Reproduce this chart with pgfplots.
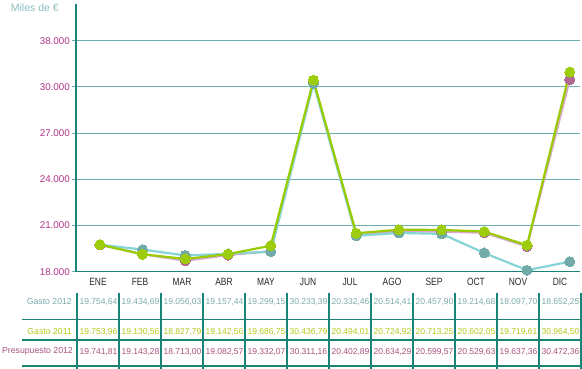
\documentclass[border=0pt]{standalone}
\usepackage{pgfplots}
\pgfplotsset{compat=1.18}
\usepackage{fontspec}
\setmainfont{Liberation Sans}
\newfontfamily\narrowfont[FakeStretch=0.8]{Liberation Sans}
\definecolor{axisteal}{HTML}{1A8576}
\definecolor{gridteal}{HTML}{6AAEAE}
\definecolor{ticklab}{HTML}{B0328A}
\definecolor{ylab}{HTML}{8CBCBC}
\definecolor{g12line}{HTML}{86D4D6}
\definecolor{g12mark}{HTML}{72AAAA}
\definecolor{g11line}{HTML}{99CC00}
\definecolor{g11mark}{HTML}{9CCC0A}
\definecolor{prline}{HTML}{D8A6CE}
\definecolor{prmark}{HTML}{B06A92}
\definecolor{g12txt}{HTML}{7AAAAA}
\definecolor{g11txt}{HTML}{B4C814}
\definecolor{prtxt}{HTML}{A8507C}
\begin{document}
\begin{tikzpicture}[x=1pt,y=1pt]
\useasboundingbox (0,0) rectangle (582,369);
\begin{axis}[
  at={(76pt,97.3pt)}, anchor=south west,
  scale only axis, width=504pt, height=267.7pt,
  xmin=-0.56, xmax=11.24, ymin=18000, ymax=35383,
  axis x line=bottom, axis y line=left,
  axis line style={-, draw=axisteal, line width=1.4pt},
  xtick=\empty,
  ytick={18000,21000,24000,27000,30000,33000},
  yticklabels={18.000,21.000,24.000,27.000,30.000,38.000},
  ymajorgrids, grid style={gridteal, line width=0.9pt},
  tick align=outside, major tick length=4.5pt,
  tick style={gridteal, line width=0.9pt},
  yticklabel style={font=\fontsize{9.8}{10}\selectfont, color=ticklab, inner sep=1.5pt},
  /pgf/number format/assume math mode=true,
  clip=false,
]
\addplot[prline, line width=2.2pt, mark=*, mark size=5pt, mark options={draw=prmark, fill=prmark, line width=0pt}] coordinates {
(0,19741.81) (1,19143.28) (2,18713.00) (3,19082.57) (4,19332.07) (5,30311.16)
(6,20402.89) (7,20634.29) (8,20599.57) (9,20529.63) (10,19637.36) (11,30472.36)};
\addplot[g12line, line width=2.2pt, mark=*, mark size=5pt, mark options={draw=g12mark, fill=g12mark, line width=0pt}] coordinates {
(0,19754.64) (1,19434.69) (2,19056.03) (3,19157.44) (4,19299.15) (5,30233.39)
(6,20332.46) (7,20514.41) (8,20457.90) (9,19214.68) (10,18097.70) (11,18652.25)};
\addplot[g11line, line width=2.2pt, mark=*, mark size=5pt, mark options={draw=g11mark, fill=g11mark, line width=0pt}] coordinates {
(0,19753.96) (1,19130.56) (2,18827.79) (3,19142.56) (4,19686.75) (5,30436.79)
(6,20494.01) (7,20724.92) (8,20713.25) (9,20602.05) (10,19719.61) (11,30964.50)};
\end{axis}
% axis title
\node[anchor=west, inner sep=0, text=ylab, font=\fontsize{10.5}{11}\selectfont] at (10.7,361.7) {Miles de €};
% data table
\foreach \k in {0,...,12} { \draw[axisteal, line width=1.3pt] (77+42*\k,0) -- (77+42*\k,76); }
\foreach \yy in {49.7,29,3} { \draw[axisteal, line width=1.3pt] (22,\yy) -- (582,\yy); }
\foreach \m [count=\i from 0] in {ENE,FEB,MAR,ABR,MAY,JUN,JUL,AGO,SEP,OCT,NOV,DIC}
  { \node[inner sep=0, font=\narrowfont\fontsize{10.5}{11}\selectfont, text=black!85] at (98+42*\i,87) {\m}; }
\node[anchor=east, inner sep=0, text=g12txt, font=\fontsize{8.7}{9}\selectfont] at (72,67) {Gasto 2012};
\node[anchor=east, inner sep=0, text=g11txt, font=\fontsize{8.7}{9}\selectfont] at (72,37.3) {Gasto 2011};
\node[anchor=east, inner sep=0, text=prtxt, font=\fontsize{8.7}{9}\selectfont] at (73,17.3) {Presupuesto 2012};
\foreach \v [count=\i from 0] in {{19.754,64},{19.434,69},{19.056,03},{19.157,44},{19.299,15},{30.233,39},{20.332,46},{20.514,41},{20.457,90},{19.214,68},{18.097,70},{18.652,25}}
  { \node[inner sep=0, text=g12txt, font=\fontsize{8.5}{9}\selectfont] at (98.5+42*\i,67) {\v}; }
\foreach \v [count=\i from 0] in {{19.753,96},{19.130,56},{18.827,79},{19.142,56},{19.686,75},{30.436,79},{20.494,01},{20.724,92},{20.713,25},{20.602,05},{19.719,61},{30.964,50}}
  { \node[inner sep=0, text=g11txt, font=\fontsize{8.5}{9}\selectfont] at (98.5+42*\i,37.3) {\v}; }
\foreach \v [count=\i from 0] in {{19.741,81},{19.143,28},{18.713,00},{19.082,57},{19.332,07},{30.311,16},{20.402,89},{20.634,29},{20.599,57},{20.529,63},{19.637,36},{30.472,36}}
  { \node[inner sep=0, text=prtxt, font=\fontsize{8.5}{9}\selectfont] at (98.5+42*\i,17.3) {\v}; }
\end{tikzpicture}
\end{document}
